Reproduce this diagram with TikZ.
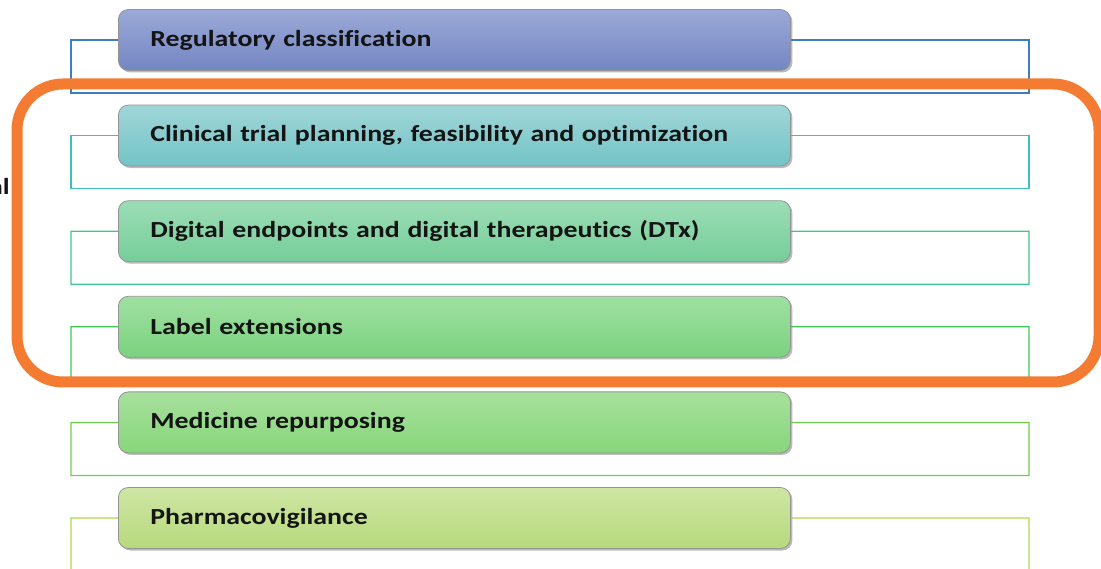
\documentclass[tikz,border=0pt]{standalone}
\usepackage{fontspec}
\setmainfont{Carlito}[Ligatures={NoCommon}, FakeStretch=1.21, WordSpace=0.85]
\usetikzlibrary{shadows}

% fill colours (top / bottom) and connector colours for each row
\definecolor{regT}{HTML}{9BA9D7}\definecolor{regB}{HTML}{7486C3}\definecolor{regL}{HTML}{3D7DC2}
\definecolor{cliT}{HTML}{A0D6D8}\definecolor{cliB}{HTML}{73C3C7}\definecolor{cliL}{HTML}{3DBFC2}
\definecolor{digT}{HTML}{9CDDB6}\definecolor{digB}{HTML}{76CD99}\definecolor{digL}{HTML}{3CC88C}
\definecolor{labT}{HTML}{A0E0A2}\definecolor{labB}{HTML}{7BD27F}\definecolor{labL}{HTML}{3ECB50}
\definecolor{medT}{HTML}{A6E09C}\definecolor{medB}{HTML}{88D67B}\definecolor{medL}{HTML}{6ECF4B}
\definecolor{phaT}{HTML}{CEE6A3}\definecolor{phaB}{HTML}{B7D97D}\definecolor{phaL}{HTML}{AAD84C}
\definecolor{frame}{HTML}{F47C32}
\definecolor{ink}{HTML}{141414}

\tikzset{
  itembox/.style 2 args={
    draw=black!42, line width=0.8pt, rounded corners=10pt,
    top color=#1, bottom color=#2,
    minimum width=672pt, minimum height=61pt,
    text width=608pt, inner xsep=32pt, align=left,
    anchor=west, font=\bfseries\fontsize{23}{26}\selectfont, text=ink,
    drop shadow={shadow xshift=2pt, shadow yshift=-2pt, opacity=0.45, fill=black!60}
  },
  bracket/.style={draw=#1, line width=1.3pt},
  highlight/.style={draw=frame, line width=11pt, rounded corners=46pt}
}

\begin{document}
\begin{tikzpicture}[x=1pt, y=-1pt]
\useasboundingbox (0,0) rectangle (1101,569);

% caption running in from the left edge
\node[anchor=east, inner sep=0pt, font=\bfseries\fontsize{23}{26}\selectfont, text=ink] (side) at (10,187) {al};

% outline corners for each row
\foreach \i/\c in {0/a,1/b,2/c,3/d,4/e,5/f}{
  \coordinate (tl\c) at (71,{40+95.6*\i});
  \coordinate (bl\c) at (71,{93+95.6*\i});
  \coordinate (br\c) at (1029,{93+95.6*\i});
  \coordinate (tr\c) at (1029,{40+95.6*\i});
}

% the six items
\node[itembox={regT}{regB}] (ra) at (118,40)    {Regulatory classification};
\node[itembox={cliT}{cliB}] (rb) at (118,135.6) {Clinical trial planning, feasibility and optimization};
\node[itembox={digT}{digB}] (rc) at (118,231.2) {Digital endpoints and digital therapeutics (DTx)};
\node[itembox={labT}{labB}] (rd) at (118,326.8) {Label extensions};
\node[itembox={medT}{medB}] (re) at (118,422.4) {Medicine repurposing};
\node[itembox={phaT}{phaB}] (rf) at (118,518)   {Pharmacovigilance};

% brackets around each item
\draw[bracket=regL] (ra.west) -- (tla) -- (bla) -- (bra) -- (tra) -- (ra.east);
\draw[bracket=cliL] (rb.west) -- (tlb) -- (blb) -- (brb) -- (trb) -- (rb.east);
\draw[bracket=digL] (rc.west) -- (tlc) -- (blc) -- (brc) -- (trc) -- (rc.east);
\draw[bracket=labL] (rd.west) -- (tld) -- (bld) -- (brd) -- (trd) -- (rd.east);
\draw[bracket=medL] (re.west) -- (tle) -- (ble) -- (bre) -- (tre) -- (re.east);
\draw[bracket=phaL] (rf.west) -- (tlf) -- (blf) -- (brf) -- (trf) -- (rf.east);

% highlight frame around the middle three items
\coordinate (hlA) at (17,84);
\coordinate (hlB) at (1099,382);
\draw[highlight] (hlA) rectangle (hlB);
\end{tikzpicture}
\end{document}
